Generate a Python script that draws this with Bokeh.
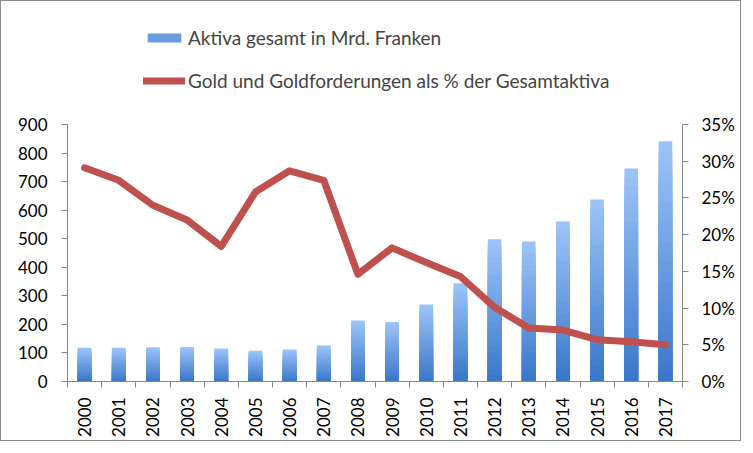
import math

from bokeh.embed import file_html
from bokeh.models import (ColumnDataSource, FixedTicker, Legend, LegendItem, LinearAxis,
                          PrintfTickFormatter, Range1d)
from bokeh.plotting import figure
from bokeh.resources import INLINE

years = list(range(2000, 2018))
aktiva = [118, 118, 120, 121, 116, 108, 112, 126, 214, 208, 270, 344, 498, 490, 560, 637, 746, 841]
gold_pct = [29.1, 27.4, 24.0, 22.0, 18.4, 25.8, 28.7, 27.4, 14.6, 18.2, 16.2, 14.3, 10.1, 7.3, 7.0, 5.7, 5.4, 5.0]
label_bars = 'Aktiva gesamt in Mrd. Franken'
label_line = 'Gold und Goldforderungen als % der Gesamtaktiva'
left_max, right_max = 900, 35

FONT = 'Lato'
AXIS_GREY = '#868686'

# frame reaches up to the top so the legend (inside the frame) isn't clipped;
# the axes are bounded to the real value range, which takes 257px of the 376px frame
W, H = 741, 441
AXIS_PX, FRAME_PX, TOP = 257, 376, 4


def blend(c1, c2, t):
    a = [int(c1[i:i + 2], 16) for i in (1, 3, 5)]
    b = [int(c2[i:i + 2], 16) for i in (1, 3, 5)]
    return '#%02x%02x%02x' % tuple(round(a[i] + (b[i] - a[i]) * t) for i in range(3))


# gradient bars: nested rects from 0 up to a fraction of each bar, light/tall first, dark/short on top
n_steps = 24
seg = dict(x=[], top=[], color=[])
for k in reversed(range(n_steps)):
    c = blend('#3a78c9', '#9cc3f8', k / (n_steps - 1))
    for yr, v in zip(years, aktiva):
        seg['x'].append(yr)
        seg['top'].append(v * (k + 1) / n_steps)
        seg['color'].append(c)

p = figure(width=W, height=H, output_backend='svg', toolbar_location=None,
           x_range=Range1d(1999.5, 2017.5), y_range=Range1d(0, left_max * FRAME_PX / AXIS_PX),
           min_border_left=66, min_border_right=60, min_border_top=TOP, min_border_bottom=H - TOP - FRAME_PX,
           styles={'border': '1px solid #8c8c8c'})
p.extra_y_ranges = {'pct': Range1d(0, right_max * FRAME_PX / AXIS_PX)}
p.grid.visible = False
p.outline_line_color = None

bars = p.vbar(x='x', bottom=0, top='top', width=0.4, fill_color='color', line_color=None,
              source=ColumnDataSource(seg))
line = p.line(years, gold_pct, y_range_name='pct', line_color='#c0504d', line_width=7,
              line_cap='round', line_join='round')

# axes
p.xaxis.ticker = FixedTicker(ticks=years, minor_ticks=[y - 0.5 for y in years] + [years[-1] + 0.5])
p.xaxis.major_label_orientation = math.pi / 2
p.xaxis.major_tick_line_color = None
p.xaxis.minor_tick_out = 6
p.xaxis.minor_tick_in = 0
p.xaxis.minor_tick_line_color = AXIS_GREY
p.xaxis.major_label_standoff = 10

p.yaxis.ticker = FixedTicker(ticks=list(range(0, left_max + 1, 100)))
p.yaxis.bounds = (0, left_max)
p.yaxis.major_label_standoff = 14

right = LinearAxis(y_range_name='pct', ticker=FixedTicker(ticks=list(range(0, right_max + 1, 5))),
                   formatter=PrintfTickFormatter(format='%d%%'), bounds=(0, right_max))
p.add_layout(right, 'right')
right.major_label_standoff = 13

for ax in p.axis:
    ax.axis_line_color = AXIS_GREY
    ax.major_tick_out = 6
    ax.major_tick_in = 0
    ax.major_label_text_font = FONT
    ax.major_label_text_font_size = '17px'
    ax.major_label_text_color = 'black'
    if ax is not p.xaxis[0]:
        ax.major_tick_line_color = AXIS_GREY
        ax.minor_tick_line_color = None

legend = Legend(items=[LegendItem(label=label_bars, renderers=[bars], index=n_steps * len(years) // 2),
                       LegendItem(label=label_line, renderers=[line])],
                location=(76, 289))
legend.label_text_font = FONT
legend.label_text_font_size = '19px'
legend.glyph_width = 42
legend.glyph_height = 11
legend.label_height = 20
legend.spacing = 20
legend.label_standoff = 3
legend.padding = 0
legend.margin = 0
legend.border_line_color = None
legend.background_fill_alpha = 0
p.add_layout(legend)

open('out.html', 'w').write(file_html(p, INLINE))
